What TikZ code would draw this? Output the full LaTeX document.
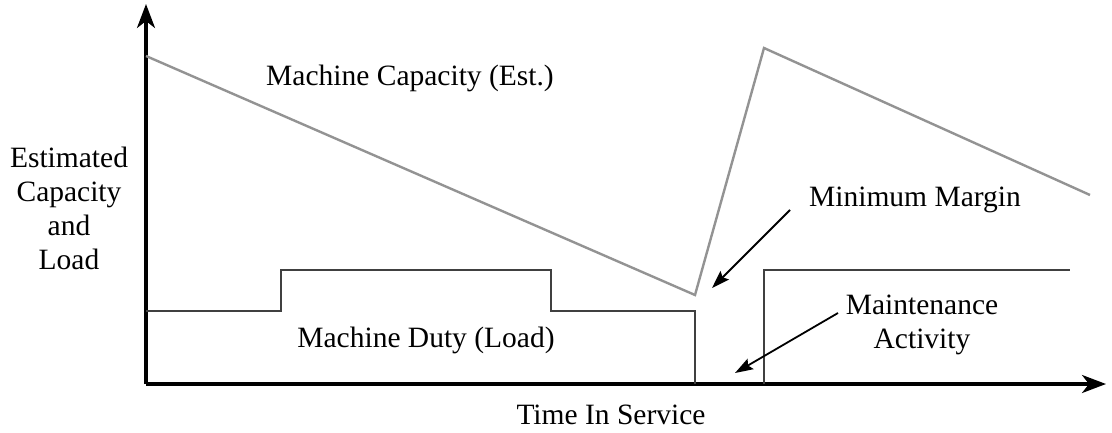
\documentclass[tikz,border=0pt]{standalone}
\usepackage{fontspec}
\setmainfont{Liberation Serif}
\usetikzlibrary{arrows.meta}
\begin{document}
\begin{tikzpicture}[x=1pt,y=-1pt,
  lbl/.style={font=\fontsize{29.5}{34}\selectfont, align=center, inner sep=0pt},
  axis/.style={line width=3.2pt, black, -{Stealth[length=24pt,width=18pt,inset=7pt]}},
  capline/.style={line width=2.4pt, gray!85},
  loadline/.style={line width=2.8pt, black!75},
  note/.style={line width=1.8pt, black, -{Stealth[length=18pt,width=12pt,inset=3pt]}}]
\useasboundingbox (0,0) rectangle (1112,432);
% axes
\coordinate (o) at (146,384);
\coordinate (ytop) at (146,4);
\coordinate (xend) at (1106,384);
\draw[axis] (o) -- (ytop);
\draw[axis] (o) -- (xend);
% capacity
\coordinate (c0) at (146,56);
\coordinate (c1) at (695,295);
\coordinate (c2) at (764,48);
\coordinate (c3) at (1090,195);
\draw[capline] (c0) -- (c1) -- (c2) -- (c3);
% load
\coordinate (l0) at (146,311);
\coordinate (l1) at (281,311);
\coordinate (l2) at (281,270);
\coordinate (l3) at (551,270);
\coordinate (l4) at (551,311);
\coordinate (l5) at (695,311);
\coordinate (l6) at (695,384);
\draw[loadline] (l0) -- (l1) -- (l2) -- (l3) -- (l4) -- (l5) -- (l6);
\coordinate (m0) at (764,384);
\coordinate (m1) at (764,270);
\coordinate (m2) at (1070,270);
\draw[loadline] (m0) -- (m1) -- (m2);
% labels
\node[lbl] (capl) at (410,78) {Machine Capacity (Est.)};
\node[lbl] (yl) at (69,208) {Estimated\\Capacity\\and\\Load};
\node[lbl] (minl) at (915,200) {Minimum Margin};
\node[lbl] (maint) at (922,325) {Maintenance\\Activity};
\node[lbl] (duty) at (426,340) {Machine Duty (Load)};
\node[lbl] (xl) at (611,415) {Time In Service};
% annotation arrows
\coordinate (a1s) at (790,210);
\coordinate (a1e) at (712,288);
\coordinate (a2s) at (838,313);
\coordinate (a2e) at (735,373);
\draw[note] (a1s) -- (a1e);
\draw[note] (a2s) -- (a2e);
\end{tikzpicture}
\end{document}
